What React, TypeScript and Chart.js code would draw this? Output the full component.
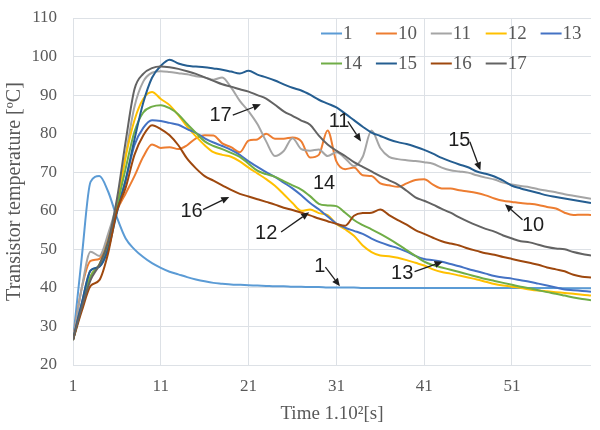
import { useEffect, useRef } from "react";
import { Chart, registerables } from "chart.js";

Chart.register(...registerables);

// Time index (x 1.10^2 s)
const timeSteps = [
  1, 2, 3, 4, 5, 6, 7, 8, 9, 10, 11, 12, 13, 14, 15, 16, 17, 18, 19, 20,
  21, 22, 23, 24, 25, 26, 27, 28, 29, 30, 31, 32, 33, 34, 35, 36, 37, 38, 39, 40,
  41, 42, 43, 44, 45, 46, 47, 48, 49, 50, 51, 52, 53, 54, 55, 56, 57, 58, 59, 60,
];
const xTickValues = [1, 11, 21, 31, 41, 51];

const seriesNames = ["1", "10", "11", "12", "13", "14", "15", "16", "17"];
const seriesColors = ["#5B9BD5", "#ED7D31", "#A5A5A5", "#FFC000", "#4472C4", "#70AD47", "#255E91", "#9E480E", "#636363"];

const temp1 = [
  26.5, 48, 67.5, 69, 65, 58.3, 52.8, 50, 48, 46.4,
  45.2, 44.2, 43.5, 42.8, 42.2, 41.7, 41.3, 41.1, 40.9, 40.8,
  40.7, 40.6, 40.5, 40.4, 40.4, 40.3, 40.3, 40.2, 40.2, 40.1,
  40.1, 40.1, 40.1, 40, 40, 40, 40, 40, 40, 40,
  40, 40, 40, 40, 40, 40, 40, 40, 40, 40,
  40, 40, 40, 40, 40, 40, 39.9, 39.9, 39.9, 39.9,
];
const temp10 = [
  26.5, 40, 47, 47.5, 53, 60, 64.5, 69, 74, 77.2,
  76.3, 76.5, 76, 77, 78.8, 79.6, 79.5, 77.5, 76.5, 75.2,
  78.2, 78.5, 80, 78.7, 78.7, 79, 78, 73.8, 74.5, 80.8,
  72.8, 70.8, 71.2, 69.2, 69, 67.1, 66.6, 66.2, 67.1, 68,
  68.2, 66.8, 65.8, 65.8, 65.3, 65, 64.6, 64, 63.2, 62.6,
  62.3, 62, 61.8, 61.5, 61, 60.6, 59.5, 58.9, 59, 58.9,
];
const temp11 = [
  26.5, 40, 49.4, 48.3, 54, 62, 74.5, 87, 93.5, 95.8,
  96.2, 96, 95.7, 95.4, 94.9, 94.6, 94, 94.6, 92, 88.5,
  85.8, 82.5, 78, 74.2, 75.5, 78.8, 76, 75.6, 75.9, 74.2,
  75.2, 73.6, 71.6, 74, 80.8, 76.3, 74, 73.4, 73.1, 72.9,
  72.6, 72.2, 71.2, 70.5, 70.2, 69.9, 69.2, 68.6, 68.1, 67.3,
  66.8, 66.4, 66.1, 65.6, 65.2, 64.8, 64.3, 63.9, 63.5, 63.1,
];
const temp12 = [
  26.5, 35, 43, 46, 52, 61, 74, 83.5, 89, 90.8,
  89, 87.4, 84.8, 81.8, 79.3, 77, 75.2, 74.5, 74, 72.8,
  71.2, 69.7, 68.2, 66.5, 64.3, 62, 60, 60.3, 59.4, 58.9,
  56.6, 55.2, 53.5, 51, 49.3, 48.4, 48.2, 47.8, 47.2, 46.5,
  45.8, 44.8, 44.1, 43.7, 43.2, 42.7, 42.2, 41.6, 41, 40.6,
  40.3, 40, 39.6, 39.3, 39.1, 38.9, 38.7, 38.5, 38.2, 38,
];
const temp13 = [
  26.5, 36, 44.5, 45.5, 51, 60, 68, 77, 81.5, 83.5,
  83.3, 82.8, 82.3, 81.2, 80.2, 78.8, 77.7, 76.8, 75.8, 74.5,
  72.8, 71.4, 70, 68.8, 67.3, 65.8, 64, 62, 60.4, 58.5,
  56.7, 55.6, 54.8, 54, 52.8, 51.8, 51, 50.3, 49.4, 48.3,
  47.5, 47.2, 46.8, 46.2, 45.6, 44.9, 44.3, 43.7, 43.1, 42.7,
  42.4, 42, 41.6, 41.1, 40.6, 40.1, 39.6, 39.4, 39.2, 39,
];
const temp14 = [
  26.5, 35, 43, 46, 51.5, 61, 71, 80.5, 85.5, 87,
  87.4, 86.6, 85, 82.5, 80.2, 78, 76.8, 76, 75, 74,
  72.2, 70.4, 69.5, 68.8, 67.7, 66.6, 65.5, 63.8, 61.8, 61.4,
  61.2, 59.5, 57.6, 56.3, 55.2, 54, 52.7, 51.3, 49.8, 48.3,
  46.8, 45.9, 45.3, 44.7, 44.1, 43.5, 42.9, 42.3, 41.8, 41.3,
  40.8, 40.3, 39.9, 39.4, 38.9, 38.5, 38, 37.5, 37.1, 36.8,
];
const temp15 = [
  26.5, 36, 44.5, 45.5, 50, 59.5, 68, 78.5, 88, 94.5,
  97.6, 99.2, 98.2, 97.6, 97.4, 97.2, 96.9, 96.6, 96.1, 95.6,
  96.3, 95.3, 94.6, 93.8, 92.8, 91.9, 91.2, 90.1, 88.8, 87.8,
  86.8, 85.2, 83.5, 81.8, 80.3, 79.4, 78.5, 77.8, 77.3, 76.6,
  75.8, 74.8, 73.7, 72.8, 72, 71.3, 70.2, 69.6, 68.9, 67.8,
  66.5, 65.8, 65.2, 64.6, 64, 63.6, 63.2, 62.8, 62.4, 62,
];
const temp16 = [
  26.5, 34, 40.5, 42, 49, 60, 66, 74.5, 79.5, 82.2,
  81.2, 79.6, 77, 73.5, 71, 69, 67.8, 66.6, 65.4, 64.4,
  63.7, 63, 62.3, 61.6, 60.8, 60.2, 59.5, 58.8, 58, 57.3,
  56.6, 56.1, 58.7, 59.4, 59.5, 60.3, 58.9, 57.6, 56.4, 55,
  54, 53, 52.1, 51.5, 51, 50.2, 49.6, 49, 48.6, 48,
  47.5, 47, 46.5, 46, 45.3, 44.8, 44.3, 43.4, 42.9, 42.7,
];
const temp17 = [
  26.5, 35, 42, 46, 52, 63, 78, 91.5, 95.5, 97,
  97.4, 97.2, 96.8, 96.2, 95.5, 94.6, 93.7, 92.8, 92.2, 91.5,
  90.9, 90, 89.1, 87.5, 85.8, 84.6, 83.4, 82.3, 79.5, 77.2,
  75.6, 74.2, 72.6, 71.4, 70.2, 69, 67.9, 66.8, 65.2, 63.5,
  62.6, 61.6, 60.5, 59.5, 58.3, 57.2, 56.2, 55.3, 54.6, 53.6,
  52.8, 52.1, 51.8, 51.2, 50.6, 50.2, 50, 49.3, 48.8, 48.4,
];

const seriesValues = [temp1, temp10, temp11, temp12, temp13, temp14, temp15, temp16, temp17];

// Callout labels in data coordinates: text centre, arrow tail, arrow tip
const calloutTexts = ["17", "11", "15", "14", "10", "16", "12", "1", "13"];
const calloutTextAt = [[17.8, 84.6], [31.3, 83.1], [45, 78.3], [29.6, 67.1], [53.4, 56.2], [14.5, 59.8], [23, 54.1], [29.1, 45.6], [38.5, 43.7]];
const calloutArrowFrom = [[19.2, 84.8], [32.3, 83.2], [46.2, 77.9], null, [52.2, 57.7], [15.8, 60.3], [24.7, 54.5], [29.75, 45.4], [39.9, 44.2]];
const calloutArrowTo = [[22.4, 87.6], [33.8, 78], [47.4, 70.5], null, [50.2, 61.7], [18.8, 63.6], [27.9, 59.6], [31.4, 40.4], [43.1, 46.8]];

const TEXT_COLOR = "#595959";
const GRID_COLOR = "#dde1e6";
const SERIF = "'Liberation Serif', 'Times New Roman', serif";
const SANS = "'Liberation Sans', Arial, sans-serif";

const overlayPlugin = {
  id: "overlay",
  afterDatasetsDraw(chart: any) {
    const { ctx, chartArea, scales } = chart;
    const xs = scales.x;
    const ys = scales.y;
    ctx.save();
    // legend (two rows, five columns)
    ctx.font = `19px ${SERIF}`;
    ctx.textBaseline = "middle";
    ctx.textAlign = "left";
    seriesNames.forEach((name, i) => {
      const row = Math.floor(i / 5);
      const col = i % 5;
      const lx = chartArea.left + 248 + col * 54.9;
      const ly = chartArea.top + 15.5 + row * 30;
      ctx.strokeStyle = seriesColors[i];
      ctx.lineWidth = 2;
      ctx.beginPath();
      ctx.moveTo(lx, ly);
      ctx.lineTo(lx + 21, ly);
      ctx.stroke();
      ctx.fillStyle = TEXT_COLOR;
      ctx.fillText(name, lx + 22, ly + 1);
    });
    // callouts
    ctx.font = `20px ${SANS}`;
    ctx.textAlign = "center";
    ctx.fillStyle = "#1e1e1e";
    ctx.strokeStyle = "#1e1e1e";
    calloutTexts.forEach((t, i) => {
      const [tx, ty] = calloutTextAt[i];
      ctx.fillText(t, xs.getPixelForValue(tx), ys.getPixelForValue(ty));
      const from = calloutArrowFrom[i];
      const to = calloutArrowTo[i];
      if (from && to) {
        const x0 = xs.getPixelForValue(from[0]);
        const y0 = ys.getPixelForValue(from[1]);
        const x1 = xs.getPixelForValue(to[0]);
        const y1 = ys.getPixelForValue(to[1]);
        const ang = Math.atan2(y1 - y0, x1 - x0);
        const hl = 8;
        const hw = 3.5;
        const bx = x1 - hl * Math.cos(ang);
        const by = y1 - hl * Math.sin(ang);
        ctx.lineWidth = 1.3;
        ctx.beginPath();
        ctx.moveTo(x0, y0);
        ctx.lineTo(bx, by);
        ctx.stroke();
        ctx.beginPath();
        ctx.moveTo(x1, y1);
        ctx.lineTo(bx + hw * Math.sin(ang), by - hw * Math.cos(ang));
        ctx.lineTo(bx - hw * Math.sin(ang), by + hw * Math.cos(ang));
        ctx.closePath();
        ctx.fill();
      }
    });
    ctx.restore();
  },
};

export default function App() {
  const canvasRef = useRef<HTMLCanvasElement | null>(null);

  useEffect(() => {
    const canvas = canvasRef.current;
    if (!canvas) return;
    const n = seriesNames.length;
    const chart = new Chart(canvas, {
      type: "line",
      data: {
        datasets: seriesNames.map((name, i) => ({
          label: name,
          data: seriesValues[i].map((v, k) => ({ x: timeSteps[k], y: v })),
          borderColor: seriesColors[i],
          backgroundColor: seriesColors[i],
          borderWidth: 2,
          pointRadius: 0,
          fill: false,
          cubicInterpolationMode: "monotone" as const,
          order: n - i,
        })),
      },
      options: {
        animation: false,
        responsive: false,
        events: [],
        layout: { padding: { top: 18, right: 9, left: 0, bottom: 0 } },
        plugins: {
          legend: { display: false },
          tooltip: { enabled: false },
        },
        scales: {
          x: {
            type: "linear",
            min: 1,
            max: 60,
            afterBuildTicks: (axis: any) => {
              axis.ticks = xTickValues.map((v) => ({ value: v }));
            },
            afterFit: (s: any) => {
              s.height = 65;
            },
            ticks: {
              autoSkip: false,
              maxRotation: 0,
              padding: 11,
              color: TEXT_COLOR,
              font: { family: SERIF, size: 17 },
            },
            grid: { color: GRID_COLOR, drawTicks: false, lineWidth: 1 },
            border: { display: false },
            title: {
              display: true,
              text: "Time 1.10²[s]",
              color: TEXT_COLOR,
              font: { family: SERIF, size: 19 },
              padding: { top: 0, bottom: 5 },
            },
          },
          y: {
            min: 20,
            max: 110,
            afterFit: (s: any) => {
              s.width = 73;
              s.paddingTop = 8;
              s.paddingBottom = 8;
            },
            ticks: {
              stepSize: 10,
              padding: 16,
              color: TEXT_COLOR,
              font: { family: SERIF, size: 17 },
            },
            grid: { color: GRID_COLOR, drawTicks: false, lineWidth: 1 },
            border: { display: false },
            title: {
              display: true,
              text: "Transistor temperature [ºC]",
              color: TEXT_COLOR,
              font: { family: SERIF, size: 20 },
              padding: { top: 3, bottom: 0 },
            },
          },
        },
      },
      plugins: [overlayPlugin],
    });
    return () => chart.destroy();
  }, []);

  return (
    <div style={{ position: "absolute", left: 0, top: 0, width: 600, height: 430, background: "#fff" }}>
      <canvas ref={canvasRef} width={600} height={430} style={{ display: "block", width: 600, height: 430 }} />
    </div>
  );
}
